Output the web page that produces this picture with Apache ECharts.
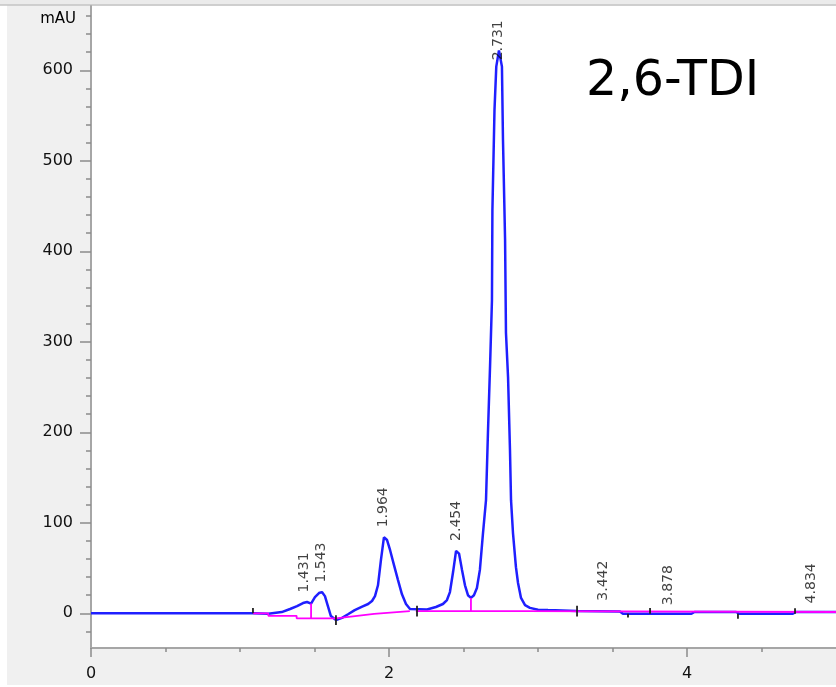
<!DOCTYPE html>
<html>
<head>
<meta charset="utf-8">
<script src="https://cdn.jsdelivr.net/npm/echarts@6/dist/echarts.min.js"></script>
<style>
html,body{margin:0;padding:0;background:#fff;}
#chart{width:836px;height:687px;}
</style>
</head>
<body>
<div id="chart"></div>
<script>
// Chromatogram signal (time in min, signal in mAU)
const blueTime = [0,1.087,1.19,1.28,1.336,1.383,1.423,1.45,1.477,1.503,1.53,1.55,1.57,1.59,1.61,1.644,1.685,1.725,1.77,1.82,1.86,1.886,1.906,1.926,1.946,1.966,1.987,2.007,2.034,2.06,2.087,2.114,2.141,2.255,2.315,2.362,2.389,2.409,2.43,2.45,2.47,2.49,2.51,2.53,2.55,2.57,2.59,2.61,2.63,2.651,2.664,2.678,2.691,2.694,2.708,2.72,2.738,2.758,2.765,2.779,2.785,2.799,2.812,2.819,2.832,2.852,2.866,2.886,2.913,2.946,3.0,3.067,3.26,3.55,3.57,4.03,4.05,4.33,4.35,4.71,4.73,5.0];
const blueSignal = [0,0,-0.5,1.4,4.8,8,11.4,12.5,10.8,18,22.4,23.5,19,8,-3,-7.4,-5,-1,3.6,7.5,10.3,13.6,19,31,59,84,81,70,53,37,21,10.3,4.7,4.2,7,10.3,14.7,23.5,45.6,69,66,48,31,20,17,20,28,48,87,125,199,272,346,445,556,604,622,604,523,413,310,261,180,125,89,51,33.5,17,9,6,4,3.6,2.5,2,-0.5,-0.5,1.5,1.5,-0.5,-0.5,1.5,1.5];

// Integration baseline
const baseTime = [1.087,1.19,1.19,1.38,1.38,1.645,1.9,2.14,null,2.18,2.92,2.92,5.0];
const baseSignal = [0,0,-2.7,-2.7,-5.5,-5.5,-0.5,2.5,null,2.5,2.5,1.5,1.5];

// Peak drop lines
const dropTime = [1.477, 2.55];
const dropLow = [-5.5, 2.5];
const dropHigh = [10.8, 17];

// Peak start/end markers
const markTime = [1.087, 1.644, 2.188, 3.262, 3.604, 3.752, 4.342, 4.725];
const markLow = [0, -13, -3.5, -3.5, -4.5, -0.5, -6, -0.5];
const markHigh = [6, -2, 8.5, 8.5, -0.5, 6, -0.5, 5.5];

// Peak labels
const peakTimes = ['1.431','1.543','1.964','2.454','2.731','3.442','3.878','4.834'];
const peakLabelY = [23, 34, 95, 80, 611, 14, 9, 11];

// Axis ticks
const yMajor = [0,100,200,300,400,500,600];
const yMinor = [-20,20,40,60,80,120,140,160,180,220,240,260,280,320,340,360,380,420,440,460,480,520,540,560,580,620,640,660];
const xMajor = [0,2,4];
const xMinor = [0.5,1,1.5,2.5,3,3.5,4.5];

const bluePts = blueTime.map((t,i)=>[t, blueSignal[i]]);
const basePts = baseTime.map((t,i)=> t===null ? '-' : [t, baseSignal[i]]);
const dropPts = [];
dropTime.forEach((t,i)=>{ dropPts.push([t,dropLow[i]],[t,dropHigh[i]],'-'); });
const markPts = [];
markTime.forEach((t,i)=>{ markPts.push([t,markLow[i]],[t,markHigh[i]],'-'); });
const labelPts = peakTimes.map((s,i)=>({value:[parseFloat(s), peakLabelY[i]], name:s}));

const FONT = '"DejaVu Sans", Verdana, sans-serif';
const axisGray = '#a6a6a6';
const tickGray = '#8a8a8a';
const yMin = -38.3, yMax = 671;

const chart = echarts.init(document.getElementById('chart'), null, {renderer:'canvas'});
chart.setOption({
  animation: false,
  backgroundColor: '#ffffff',
  graphic: [
    {type:'rect', z:-10, shape:{x:0,y:0,width:836,height:5}, style:{fill:'#ebebeb'}},
    {type:'rect', z:-10, shape:{x:7,y:5,width:829,height:680}, style:{fill:'#f0f0f0'}},
    {type:'line', z:-9, shape:{x1:0,y1:5,x2:836,y2:5}, style:{stroke:'#c4c4c4', lineWidth:1.5}},
    {type:'text', z:100, style:{x:76, y:19, text:'mAU', font:'15px ' + FONT, fill:'#000000', align:'right', verticalAlign:'middle'}},
    {type:'text', z:100, style:{x:586, y:82, text:'2,6-TDI', font:'49px ' + FONT, fill:'#000000', align:'left', verticalAlign:'middle'}}
  ],
  grid: {left:91, top:6, right:0, bottom:39, show:true, backgroundColor:'#ffffff', borderWidth:0},
  xAxis: [
    {type:'value', min:0, max:5, position:'bottom',
     axisLine:{show:true, onZero:false, lineStyle:{color:axisGray, width:2}},
     axisTick:{show:true, customValues:xMajor, length:9, lineStyle:{color:tickGray, width:1.5}},
     axisLabel:{show:true, customValues:xMajor, margin:18, fontSize:16, fontFamily:FONT, color:'#111111'},
     splitLine:{show:false}},
    {type:'value', min:0, max:5, position:'bottom',
     axisLine:{show:false, onZero:false},
     axisTick:{show:true, customValues:xMinor, length:4, lineStyle:{color:tickGray, width:1.5}},
     axisLabel:{show:false},
     splitLine:{show:false}}
  ],
  yAxis: [
    {type:'value', min:yMin, max:yMax, position:'left',
     axisLine:{show:true, onZero:false, lineStyle:{color:axisGray, width:2}},
     axisTick:{show:true, customValues:yMajor, length:11, lineStyle:{color:tickGray, width:1.5}},
     axisLabel:{show:true, customValues:yMajor, margin:18, fontSize:16, fontFamily:FONT, color:'#111111'},
     splitLine:{show:false}},
    {type:'value', min:yMin, max:yMax, position:'left',
     axisLine:{show:false, onZero:false},
     axisTick:{show:true, customValues:yMinor, length:5, lineStyle:{color:tickGray, width:1.5}},
     axisLabel:{show:false},
     splitLine:{show:false}}
  ],
  series: [
    {type:'line', name:'signal', data:bluePts, showSymbol:false, symbol:'none', z:2,
     lineStyle:{color:'#1f1fff', width:2.5}, clip:true},
    {type:'line', name:'baseline', data:basePts, showSymbol:false, symbol:'none', z:3,
     connectNulls:false, lineStyle:{color:'#ff00ff', width:1.8}},
    {type:'line', name:'drops', data:dropPts, showSymbol:false, symbol:'none', z:3,
     connectNulls:false, lineStyle:{color:'#ff00ff', width:1.8}},
    {type:'line', name:'marks', data:markPts, showSymbol:false, symbol:'none', z:4,
     connectNulls:false, lineStyle:{color:'#222222', width:1.8}},
    {type:'scatter', name:'labels', data:labelPts, symbolSize:0, z:5, silent:true,
     label:{show:true, formatter:p=>p.name, rotate:90, position:[0,0], align:'left', verticalAlign:'middle',
            fontSize:14, fontFamily:FONT, color:'#111111'}}
  ]
});
</script>
</body>
</html>
